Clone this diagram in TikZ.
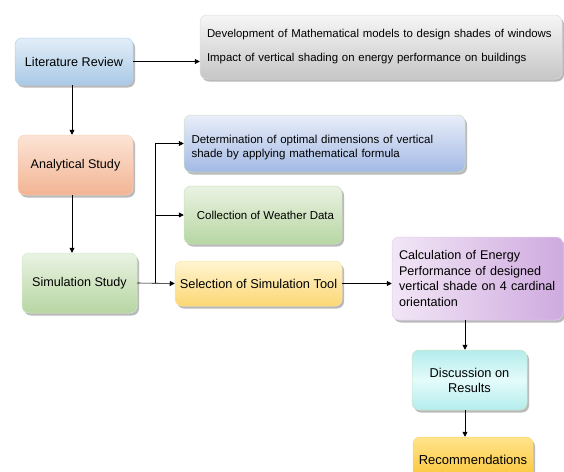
\documentclass[tikz,border=0pt]{standalone}
\usepackage{fontspec}
\setmainfont{Liberation Sans}
\usepackage{tikz}
\usetikzlibrary{arrows.meta,positioning,shadows}
\usepackage{xcolor}
\definecolor{litTop}{HTML}{E2EEF8}
\definecolor{litBot}{HTML}{A9C9E6}
\definecolor{litLine}{HTML}{B4D0EA}
\definecolor{greyTop}{HTML}{F6F6F6}
\definecolor{greyBot}{HTML}{C6C6C6}
\definecolor{anaTop}{HTML}{FCE4D6}
\definecolor{anaBot}{HTML}{F2B493}
\definecolor{simTop}{HTML}{EAF3E3}
\definecolor{simBot}{HTML}{B7D6A2}
\definecolor{detTop}{HTML}{E9EEF9}
\definecolor{detBot}{HTML}{A3B9E4}
\definecolor{selTop}{HTML}{FFF5D2}
\definecolor{selBot}{HTML}{FCD773}
\definecolor{purLeft}{HTML}{F2E6F6}
\definecolor{purRight}{HTML}{CFAADF}
\definecolor{disEdge}{HTML}{B4ECEC}
\definecolor{disMid}{HTML}{E4FBFB}
\definecolor{recTop}{HTML}{FFE48C}
\definecolor{recBot}{HTML}{FBC332}

\begin{document}
\begin{tikzpicture}[x=1pt,y=-1pt,
        stepbox/.style={rounded corners=7pt,draw=#1,line width=0.5pt,inner sep=0pt,
          drop shadow={shadow xshift=2pt,shadow yshift=-2.5pt,fill=black!45,opacity=0.6}},
        flow/.style={-{Triangle[length=5pt,width=5pt]},line width=0.6pt}
      ]
        \useasboundingbox (0,0) rectangle (564,471);
        \coordinate (spine) at (72,0);
        \coordinate (fork) at (155,0);
        \coordinate (col) at (465,0);
        % left column
        \node[stepbox=litLine,top color=litTop,bottom color=litBot,minimum width=118pt,minimum height=47pt,font=\fontsize{12.6}{15}\selectfont]
          (lit) at (74,61.5) {Literature Review};
        \node[stepbox=anaTop!60!anaBot,top color=anaTop,bottom color=anaBot,minimum width=115pt,minimum height=60pt,font=\fontsize{12.6}{15}\selectfont]
          (ana) at (75.5,165) {Analytical Study};
        \node[stepbox=simTop!60!simBot,top color=simTop,bottom color=simBot,minimum width=115pt,minimum height=60pt,font=\fontsize{12.6}{15}\selectfont]
          (sim) at (79.5,283) {Simulation Study};
        % right side
        \node[stepbox=greyTop!50!greyBot,top color=greyTop,bottom color=greyBot,minimum width=362pt,minimum height=64pt,
          text width=348pt,align=left,font=\fontsize{11.4}{13}\selectfont]
          (lits) at (381,47) {Development of Mathematical models to design shades of windows\\[11pt]
          Impact of vertical shading on energy performance on buildings};
        \node[stepbox=simTop!40!simBot,top color=detTop,bottom color=detBot,minimum width=281pt,minimum height=57pt,
          text width=266pt,align=left,font=\fontsize{11.5}{14.5}\selectfont]
          (det) at (324.5,143.5) {\rule{0pt}{16pt}Determination of optimal dimensions of vertical\\shade by applying mathematical formula};
        \node[stepbox=simTop!40!simBot,top color=simTop,bottom color=simBot,minimum width=158pt,minimum height=58pt,font=\fontsize{11.5}{13}\selectfont]
          (wea) at (263,215) {\hspace*{5pt}Collection of Weather Data};
        \node[stepbox=selTop!50!selBot,top color=selTop,bottom color=selBot,minimum width=167pt,minimum height=45pt,font=\fontsize{12.8}{15}\selectfont]
          (sel) at (258.5,283.5) {Selection of Simulation Tool};
        \node[stepbox=purLeft!60!purRight,left color=purLeft,right color=purRight,minimum width=171pt,minimum height=83pt,
          text width=157pt,align=left,font=\fontsize{12.6}{15.5}\selectfont]
          (calc) at (477.5,278.5) {Calculation of Energy\\Performance of designed\\vertical shade on 4 cardinal\\orientation};
        \node[stepbox=simTop!50!simBot,top color=disEdge,bottom color=disEdge,middle color=disMid,minimum width=115pt,minimum height=60pt,
          align=center,font=\fontsize{12.8}{15}\selectfont]
          (disc) at (469.5,380) {Discussion on\\Results};
        \node[stepbox=recTop!60!recBot,top color=recTop,bottom color=recBot,minimum width=120pt,minimum height=45pt,font=\fontsize{13}{15}\selectfont]
          (rec) at (473,459.5) {Recommendations};
        % connectors
        \draw[flow] (lit.east) -- (lit.east -| lits.west);
        \draw[flow] (lit.south -| spine) -- (ana.north -| spine);
        \draw[flow] (ana.south -| spine) -- (sim.north -| spine);
        \draw[flow] (sim.east) -- (sel.west);
        \draw[flow] (fork |- sim.east) |- (det.west);
        \draw[flow] (fork |- sim.east) |- (wea.west);
        \draw[flow] (sel.east) -- (sel.east -| calc.west);
        \draw[flow] (calc.south -| col) -- (disc.north -| col);
        \draw[flow] (disc.south -| col) -- (rec.north -| col);
      \end{tikzpicture}
\end{document}
